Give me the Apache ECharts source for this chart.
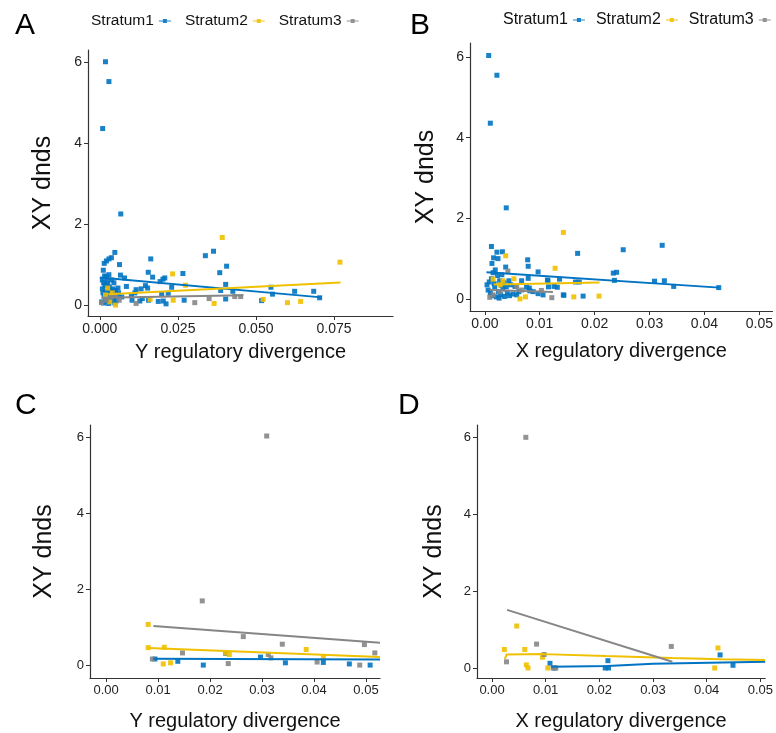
<!DOCTYPE html>
<html>
<head>
<meta charset="utf-8">
<script src="https://cdn.jsdelivr.net/npm/echarts@6/dist/echarts.min.js"></script>
<style>
html,body{margin:0;padding:0;background:#fff;}
#chart{width:776px;height:733px;}
</style>
</head>
<body>
<div id="chart"></div>
<script>
// ---------- DATA ----------
const strata = ['Stratum1', 'Stratum2', 'Stratum3'];
const colors = ['#0073C2', '#EFC000', '#868686'];

// Panel A: Y regulatory divergence vs XY dnds
const aStratum1 = [
  [0.0018,6.01],[0.0029,5.52],[0.0009,4.36],[0.0067,2.25],[0.0048,1.30],[0.0037,1.17],[0.0029,1.14],
  [0.0021,1.09],[0.0014,1.03],[0.0011,0.86],[0.0063,1.00],[0.0163,1.14],[0.0338,1.22],[0.0364,1.33],
  [0.0406,0.96],[0.0384,0.80],[0.0155,0.81],[0.0266,0.78],[0.0066,0.74],[0.0079,0.67],[0.0169,0.69],
  [0.0202,0.64],[0.0208,0.67],[0.0193,0.58],[0.0085,0.46],[0.0146,0.48],[0.0153,0.42],[0.0116,0.38],
  [0.0132,0.40],[0.0230,0.44],[0.0101,0.24],[0.0112,0.30],[0.0198,0.28],[0.0219,0.29],[0.0103,0.12],
  [0.0128,0.10],[0.0136,0.16],[0.0156,0.12],[0.0187,0.09],[0.0203,0.10],[0.0212,0.03],[0.0270,0.12],
  [0.0387,0.36],[0.0403,0.51],[0.0426,0.34],[0.0403,0.15],[0.0070,0.20],
  [0.0548,0.44],[0.0553,0.27],[0.0624,0.34],[0.0685,0.34],[0.0704,0.18],[0.0518,0.11],
  [0.0008,0.62],[0.0012,0.55],[0.0016,0.48],[0.0021,0.70],[0.0025,0.52],[0.0030,0.45],[0.0034,0.38],
  [0.0038,0.62],[0.0042,0.40],[0.0046,0.33],[0.0050,0.36],[0.0010,0.30],[0.0014,0.22],[0.0018,0.35],
  [0.0022,0.15],[0.0026,0.28],[0.0031,0.20],[0.0036,0.12],[0.0040,0.25],[0.0044,0.18],[0.0052,0.10],
  [0.0006,0.08],[0.0012,0.05],[0.0019,0.10],[0.0028,0.04],[0.0033,0.08],[0.0048,0.05],[0.0055,0.22],
  [0.0060,0.30],[0.0008,0.40],[0.0024,0.60],[0.0015,0.72],[0.0029,0.75],[0.0045,0.55],[0.0058,0.42]
];
const aStratum2 = [
  [0.0392,1.67],[0.0233,0.77],[0.0274,0.49],[0.0235,0.12],[0.0366,0.04],[0.0161,0.14],[0.0050,0.00],
  [0.0032,0.08],[0.0769,1.06],[0.0601,0.06],[0.0643,0.09],[0.0523,0.14],[0.0025,0.42],[0.0040,0.30],
  [0.0018,0.25]
];
const aStratum3 = [
  [0.0304,0.06],[0.0350,0.16],[0.0432,0.21],[0.0451,0.21],[0.0116,0.04],[0.0062,0.12],[0.0005,0.06],
  [0.0020,0.12],[0.0035,0.20],[0.0050,0.25]
];
const aFit1 = [[0.0000,0.68],[0.0710,0.19]];
const aFit2 = [[0.0027,0.27],[0.0771,0.56]];
const aFit3 = [[0.0005,0.18],[0.0460,0.24]];

// Panel B: X regulatory divergence vs XY dnds
const bStratum1 = [
  [0.0007,6.04],[0.0022,5.55],[0.0010,4.36],[0.0039,2.26],[0.0012,1.30],[0.0022,1.16],[0.0032,1.17],
  [0.0169,1.13],[0.0252,1.22],[0.0323,1.33],[0.0078,0.97],[0.0079,0.81],[0.0097,0.67],[0.0016,1.02],
  [0.0024,1.00],[0.0013,0.88],[0.0038,0.79],[0.0234,0.64],[0.0240,0.66],[0.0236,0.46],[0.0309,0.44],
  [0.0327,0.45],[0.0344,0.31],[0.0426,0.28],[0.0136,0.49],[0.0114,0.47],[0.0116,0.30],[0.0144,0.09],
  [0.0179,0.07],[0.0165,0.42],[0.0172,0.42],[0.0126,0.31],[0.0132,0.29],[0.0097,0.13],[0.0106,0.10],
  [0.0079,0.51],[0.0115,0.45],[0.0067,0.45],[0.0047,0.35],[0.0055,0.31],[0.0076,0.29],[0.0081,0.27],
  [0.0088,0.18],[0.0082,0.20],[0.0143,0.10],[0.0051,0.12],[0.0058,0.10],
  [0.0004,0.35],[0.0008,0.42],[0.0012,0.50],[0.0015,0.65],[0.0019,0.72],[0.0023,0.58],[0.0027,0.45],
  [0.0031,0.60],[0.0035,0.40],[0.0006,0.22],[0.0010,0.15],[0.0014,0.08],[0.0018,0.30],[0.0021,0.05],
  [0.0025,0.18],[0.0029,0.10],[0.0033,0.25],[0.0036,0.06],[0.0041,0.15],[0.0044,0.45],[0.0017,0.38],
  [0.0026,0.02],[0.0030,0.34],[0.0039,0.30],[0.0045,0.08],[0.0062,0.18]
];
const bStratum2 = [
  [0.0143,1.65],[0.0038,1.07],[0.0128,0.76],[0.0053,0.50],[0.0015,0.49],[0.0162,0.05],[0.0208,0.07],
  [0.0074,0.05],[0.0064,0.00],[0.0033,0.45],[0.0028,0.35]
];
const bStratum3 = [
  [0.0042,0.69],[0.0122,0.03],[0.0103,0.21],[0.0058,0.31],[0.0009,0.04],[0.0067,0.22],[0.0027,0.18],
  [0.0015,0.10]
];
const bFit1 = [[0.0003,0.66],[0.0427,0.28]];
const bFit2 = [[0.0016,0.36],[0.0209,0.41]];
const bFit3 = [[0.0009,0.22],[0.0124,0.17]];

// Panel C: Y regulatory divergence vs XY dnds
const cStratum1 = [
  [0.0094,0.16],[0.0138,0.10],[0.0187,0.00],[0.0230,0.31],[0.0297,0.21],[0.0345,0.06],[0.0418,0.07],
  [0.0468,0.03],[0.0508,0.00]
];
const cStratum2 = [
  [0.0081,1.07],[0.0081,0.46],[0.0112,0.47],[0.0237,0.28],[0.0385,0.41],[0.0418,0.21],[0.0110,0.03],
  [0.0124,0.06],[0.0230,0.32]
];
const cStratum3 = [
  [0.0309,6.03],[0.0185,1.69],[0.0264,0.75],[0.0339,0.55],[0.0497,0.54],[0.0517,0.32],[0.0147,0.32],
  [0.0312,0.28],[0.0317,0.19],[0.0406,0.08],[0.0235,0.04],[0.0488,0.00],[0.0089,0.16]
];
const cFit1 = [[0.0091,0.17],[0.0527,0.15]];
const cFit2 = [[0.0081,0.45],[0.0527,0.21]];
const cFit3 = [[0.0091,1.03],[0.0527,0.59]];

// Panel D: X regulatory divergence vs XY dnds
const dStratum1 = [
  [0.0108,0.12],[0.0216,0.19],[0.0211,0.00],[0.0217,0.00],[0.0425,0.34],[0.0449,0.07],[0.0116,0.00]
];
const dStratum2 = [
  [0.0046,1.09],[0.0023,0.48],[0.0061,0.48],[0.0094,0.28],[0.0064,0.08],[0.0067,0.00],[0.0104,0.00],
  [0.0421,0.52],[0.0415,0.00]
];
const dStratum3 = [
  [0.0063,5.99],[0.0083,0.62],[0.0097,0.35],[0.0027,0.16],[0.0334,0.56],[0.0114,0.00],[0.0119,0.00]
];
const dFit1 = [[0.0110,0.03],[0.0215,0.05],[0.0300,0.11],[0.0509,0.16]];
const dFit2 = [[0.0024,0.23],[0.0027,0.35],[0.0095,0.36],[0.0212,0.31],[0.0336,0.26],[0.0428,0.23],[0.0509,0.21]];
const dFit3 = [[0.0028,1.51],[0.0336,0.16]];

const yTicks = [0, 2, 4, 6];
const xTicksA = [0, 0.025, 0.05, 0.075];
const xTicksB = [0, 0.01, 0.02, 0.03, 0.04, 0.05];
const xNames = ['Y regulatory divergence', 'X regulatory divergence', 'Y regulatory divergence', 'X regulatory divergence'];
const yName = 'XY dnds';
const panelLetters = ['A', 'B', 'C', 'D'];

// ---------- LAYOUT ----------
const FONT = 'Liberation Sans, Arial, sans-serif';
const panels = [
  {grid:{left:88, top:50, width:305, height:266}, x:[-0.0038,0.0939], y:[-0.27,6.30], xt:xTicksA, dec:3, fs:14, yGap:32, xGap:26,
   pts:[aStratum1,aStratum2,aStratum3], fits:[aFit1,aFit2,aFit3]},
  {grid:{left:470, top:43, width:303, height:268}, x:[-0.0027,0.0524], y:[-0.30,6.35], xt:xTicksB, dec:2, fs:14, yGap:31, xGap:30,
   pts:[bStratum1,bStratum2,bStratum3], fits:[bFit1,bFit2,bFit3]},
  {grid:{left:90, top:425, width:290, height:253}, x:[-0.0031,0.0527], y:[-0.34,6.32], xt:xTicksB, dec:2, fs:13, yGap:33, xGap:33,
   pts:[cStratum1,cStratum2,cStratum3], fits:[cFit1,cFit2,cFit3]},
  {grid:{left:477, top:425, width:290, height:253}, x:[-0.0028,0.0509], y:[-0.26,6.31], xt:xTicksB, dec:2, fs:13, yGap:30, xGap:33,
   pts:[dStratum1,dStratum2,dStratum3], fits:[dFit1,dFit2,dFit3]}
];

const grids = [], xAxes = [], yAxes = [], series = [];
panels.forEach((p, i) => {
  grids.push(Object.assign({containLabel:false}, p.grid));
  xAxes.push({
    type:'value', gridIndex:i, min:p.x[0], max:p.x[1],
    name:xNames[i], nameLocation:'middle', nameGap:p.xGap,
    nameTextStyle:{fontSize:20, color:'#111', fontFamily:FONT},
    axisLine:{onZero:false, lineStyle:{color:'#333', width:1.2}},
    axisTick:{show:true, length:4, customValues:p.xt, lineStyle:{color:'#333'}},
    axisLabel:{customValues:p.xt, fontSize:p.fs, color:'#222', fontFamily:FONT, margin:6,
      formatter:v => Number(v).toFixed(p.dec)},
    splitLine:{show:false}
  });
  yAxes.push({
    type:'value', gridIndex:i, min:p.y[0], max:p.y[1],
    name:yName, nameLocation:'middle', nameGap:p.yGap, nameRotate:90,
    nameTextStyle:{fontSize:25, color:'#111', fontFamily:FONT},
    axisLine:{show:true, onZero:false, lineStyle:{color:'#333', width:1.2}},
    axisTick:{show:true, length:4, customValues:yTicks, lineStyle:{color:'#333'}},
    axisLabel:{customValues:yTicks, fontSize:p.fs, color:'#222', fontFamily:FONT, margin:6},
    splitLine:{show:false}
  });
  p.pts.forEach((d, k) => {
    series.push({
      type:'scatter', name:strata[k], xAxisIndex:i, yAxisIndex:i, data:d,
      symbol:'rect', symbolSize:5, z:2,
      itemStyle:{color:colors[k], opacity:0.9}
    });
  });
  p.fits.forEach((d, k) => {
    series.push({
      type:'line', name:strata[k], xAxisIndex:i, yAxisIndex:i, data:d,
      symbol:'none', z:3, silent:true,
      lineStyle:{color:colors[k], width:2}
    });
  });
});

const icon = 'path://M0,2.6L12,2.6L12,3.4L0,3.4Z M4,1L8,1L8,5L4,5Z';
function makeLegend(left, top, fs, gap) {
  return {
    left:left, top:top, width:320, orient:'horizontal', align:'right', itemGap:gap,
    itemWidth:12, itemHeight:6, icon:icon, selectedMode:false, padding:0,
    textStyle:{fontSize:fs, color:'#111', fontFamily:FONT},
    data:strata.map((s, k) => ({name:s, itemStyle:{color:colors[k]}}))
  };
}

const option = {
  backgroundColor:'#fff',
  animation:false,
  color:colors,
  title: panelLetters.map((t, i) => ({
    text:t, left:[10, 405, 10, 393][i], top:[6, 6, 386, 386][i],
    textStyle:{fontSize:30, fontWeight:'normal', color:'#000', fontFamily:FONT}
  })),
  legend:[makeLegend(91, 13, 15.5, 14), makeLegend(503, 12, 16, 11)],
  grid:grids, xAxis:xAxes, yAxis:yAxes, series:series
};

const chart = echarts.init(document.getElementById('chart'), null, {renderer:'canvas'});
chart.setOption(option);
</script>
</body>
</html>
